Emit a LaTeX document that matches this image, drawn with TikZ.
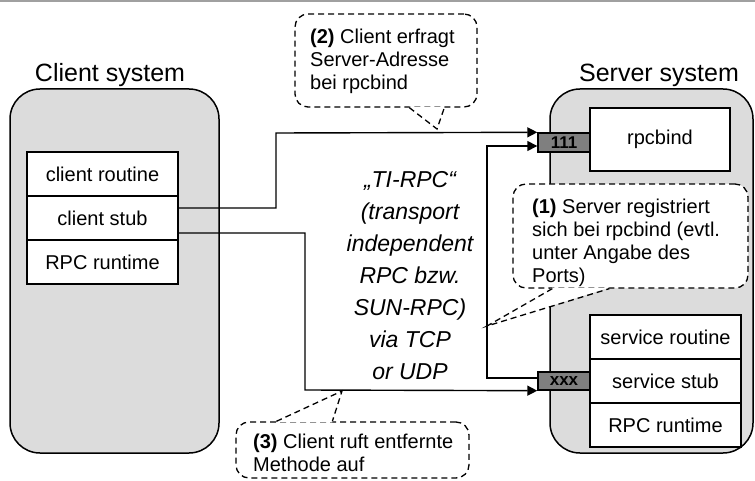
\documentclass[tikz,border=0pt]{standalone}
\usepackage{fontspec}
\setmainfont{Liberation Sans}
\usetikzlibrary{arrows.meta,calc}
\definecolor{sysgray}{HTML}{DCDCDC}
\definecolor{portgray}{HTML}{7F7F7F}
\definecolor{framegray}{HTML}{A0A0A0}
\begin{document}
\begin{tikzpicture}[x=1pt,y=-1pt,
  sysbox/.style={draw, line width=1.5pt, fill=sysgray, rounded corners=30pt, inner sep=0pt},
  syslabel/.style={anchor=base, inner sep=0pt, font=\fontsize{25}{30}\selectfont},
  layer/.style={draw, line width=1.5pt, fill=white, minimum width=151pt, minimum height=44pt, inner sep=0pt, font=\fontsize{20}{24}\selectfont},
  port/.style={draw, line width=1.4pt, fill=portgray, minimum width=52pt, minimum height=19pt, inner sep=0pt, font=\fontsize{17}{19}\selectfont\bfseries},
  conn/.style={line width=1.4pt},
  arr/.style={conn, -{Triangle[length=10pt,width=10pt]}},
  calloutbox/.style={draw, line width=1.3pt, dash pattern=on 6pt off 4pt, fill=white, rounded corners=13pt, inner sep=0pt},
  calloutline/.style={line width=1.3pt, dash pattern=on 6pt off 4pt},
  callouttext/.style={anchor=west, align=left, inner sep=0pt, font=\fontsize{20}{23}\selectfont}]
\useasboundingbox (0,0) rectangle (755,481);
\draw[framegray, line width=2pt] (0,1) -- (755,1);

% systems
\node[sysbox, minimum width=209pt, minimum height=364pt] (client) at (114.5,271) {};
\node[sysbox, minimum width=203pt, minimum height=364pt] (server) at (651.5,271) {};
\node[syslabel] (clientlbl) at (110,82) {Client system};
\node[syslabel] (serverlbl) at (659,82) {Server system};

% client stack
\node[layer] (croutine) at (102.5,174) {client routine};
\node[layer] (cstub) at (102.5,218) {client stub};
\node[layer] (cruntime) at (102.5,262) {RPC runtime};

% server stack
\node[draw, line width=1.5pt, fill=white, minimum width=140pt, minimum height=63pt, inner sep=0pt, font=\fontsize{20}{24}\selectfont] (rpcbind) at (660,139.5) {rpcbind};
\node[port] (p111) at (564,142.5) {111};
\node[layer] (sroutine) at (665.5,337) {service routine};
\node[layer] (sstub) at (665.5,381) {service stub};
\node[layer] (sruntime) at (665.5,425) {RPC runtime};
\node[port, minimum height=18pt] (pxxx) at (564,381) {xxx};

% connectors
\draw[arr] ($(cstub.east)+(0,-10)$) -| (276,133) -- (p111.north west);
\draw[arr] ($(pxxx.west)+(0,-3)$) -| (487,146) -- ($(p111.west)+(0,3.5)$);
\draw[arr] ($(cstub.east)+(0,15)$) -| (305,390) -- (pxxx.south west);

% centre text
\node[align=center, inner sep=0pt, font=\fontsize{23}{32}\selectfont\itshape] (tirpc) at (410,276)
  {„TI-RPC“\\(transport\\independent\\RPC bzw.\\SUN-RPC)\\via TCP\\or UDP};

% callout (2)
\node[calloutbox, minimum width=182pt, minimum height=93pt] (cb2) at (386,60.5) {};
\coordinate (tip2) at (437,129);
\fill[white] ($(cb2.south west)+(115,-1)$) -- (tip2) -- ($(cb2.south west)+(150,-1)$) -- cycle;
\draw[calloutline] ($(cb2.south west)+(115,0)$) -- (tip2) -- ($(cb2.south west)+(150,0)$);
\node[callouttext] (t2) at (310,61.5) {\textbf{(2)} Client erfragt\\Server-Adresse\\bei rpcbind};

% callout (1)
\node[calloutbox, minimum width=235pt, minimum height=104pt] (cb1) at (630.5,236) {};
\coordinate (tip1) at (487,326);
\fill[white] ($(cb1.south west)+(40,-1)$) -- (tip1) -- ($(cb1.south west)+(97,-1)$) -- cycle;
\draw[calloutline] ($(cb1.south west)+(40,0)$) -- (tip1) -- ($(cb1.south west)+(97,0)$);
\node[callouttext] (t1) at (532,243) {\textbf{(1)} Server registriert\\sich bei rpcbind (evtl.\\unter Angabe des\\Ports)};

% callout (3)
\node[calloutbox, minimum width=233pt, minimum height=56pt] (cb3) at (352.5,450) {};
\coordinate (tip3) at (342,391);
\fill[white] ($(cb3.north west)+(41,1)$) -- (tip3) -- ($(cb3.north west)+(97,1)$) -- cycle;
\draw[calloutline] ($(cb3.north west)+(41,0)$) -- (tip3) -- ($(cb3.north west)+(97,0)$);
\node[callouttext] (t3) at (253,453) {\textbf{(3)} Client ruft entfernte\\Methode auf};
\end{tikzpicture}
\end{document}
